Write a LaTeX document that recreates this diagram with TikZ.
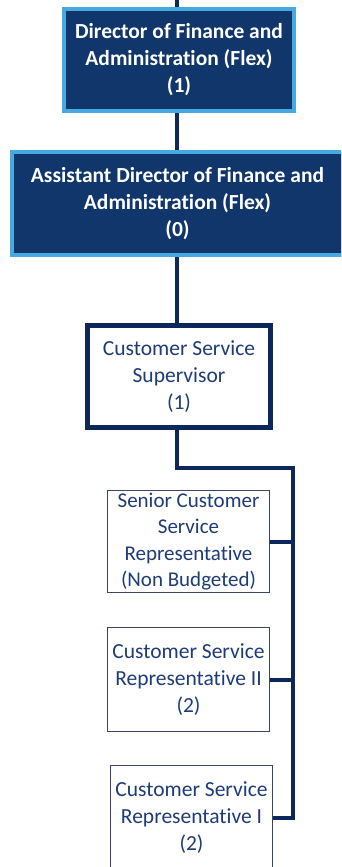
\documentclass[tikz,border=0pt]{standalone}
\usepackage{fontspec}
\setmainfont{Carlito}[Ligatures={NoCommon}]
\definecolor{navy}{RGB}{16,54,108}
\definecolor{lineblue}{RGB}{12,40,90}
\definecolor{lightb}{RGB}{70,170,225}
\definecolor{txtblue}{RGB}{30,60,120}
\definecolor{greyblue}{RGB}{60,70,100}
\tikzset{
  darkbox/.style={rectangle, fill=navy, draw=lightb, line width=4pt, text=white, font=\fontsize{21.5}{27}\selectfont\bfseries, align=center, inner sep=0pt},
  supbox/.style={rectangle, fill=white, draw=lineblue, line width=5pt, text=txtblue, font=\fontsize{21.5}{27}\selectfont, align=center, inner sep=0pt},
  thinbox/.style={rectangle, fill=white, draw=greyblue, line width=1.5pt, text=txtblue, font=\fontsize{21.5}{27}\selectfont, align=center, inner sep=0pt},
  conn/.style={draw=lineblue, line width=4pt}
}
\begin{document}
\begin{tikzpicture}[x=1pt,y=-1pt]
\useasboundingbox (0,0) rectangle (341,867);
\clip (0,0) rectangle (341,867);
\fill[white] (0,0) rectangle (341,867);
\coordinate (top) at (177,-2);
\node[darkbox, minimum width=230pt, minimum height=102pt] (b1) at (179,60)
  {Director of Finance and\\Administration (Flex)\\(1)};
\node[darkbox, minimum width=331pt, minimum height=103pt] (b2) at (177.5,203.5)
  {Assistant Director of Finance and\\Administration (Flex)\\(0)};
\node[supbox, minimum width=183pt, minimum height=102pt] (b3) at (179,376.5)
  {Customer Service\\Supervisor\\(1)};
\node[thinbox, minimum width=162pt, minimum height=102pt, font=\fontsize{21}{26.5}\selectfont] (b4) at (188.5,541.5)
  {Senior Customer\\Service\\Representative\\(Non Budgeted)};
\node[thinbox, minimum width=162pt, minimum height=104pt] (b5) at (188.5,679.5)
  {Customer Service\\Representative II\\(2)};
\node[thinbox, minimum width=162pt, minimum height=104pt] (b6) at (191.5,817.5)
  {Customer Service\\Representative I\\(2)};
\coordinate (j) at (293,468);
\draw[conn] (top) -- (b1.north -| top);
\draw[conn] (b1.south -| top) -- (b2.north -| top);
\draw[conn] (b2.south -| top) -- (b3.north -| top);
\draw[conn] (b3.south -| top) |- (j) -- (j |- b6.east) -- (b6.east);
\draw[conn] (b4.east) -- (b4.east -| j);
\draw[conn] (b5.east) -- (b5.east -| j);
\end{tikzpicture}
\end{document}
